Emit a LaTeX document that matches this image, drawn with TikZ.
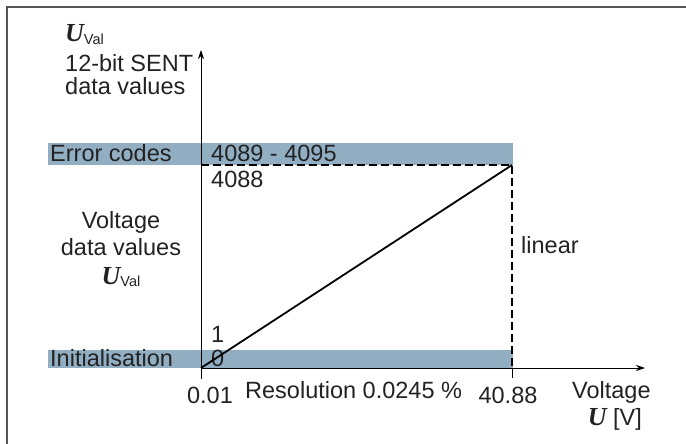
\documentclass[tikz,border=0pt]{standalone}
\usepackage{fontspec}
\setmainfont{Liberation Sans}
\newfontfamily\ufont{Liberation Serif}
\usetikzlibrary{arrows.meta}
\definecolor{bandblue}{HTML}{91AEC3}
\definecolor{framegray}{HTML}{555555}
\definecolor{txt}{HTML}{222222}
\newcommand{\UVal}{{\fontsize{26}{26}\ufont\bfseries\itshape U}\raisebox{-2.5pt}{\fontsize{14.5}{14.5}\selectfont Val}}
\tikzset{
  lbl/.style={inner sep=0pt, anchor=base west, text=txt},
  lblc/.style={inner sep=0pt, anchor=base, text=txt},
  axis/.style={line width=0.9pt, -{Stealth[length=9pt,width=6pt]}},
  dashline/.style={line width=1.8pt, dash pattern=on 8pt off 4pt},
  band/.style={fill=bandblue},
}
\begin{document}
\begin{tikzpicture}[x=1pt,y=-1pt, font=\fontsize{23.5}{23}\selectfont]
\useasboundingbox (0,0) rectangle (686,444);
% bands
\fill[band] (48,143) rectangle (513,165);
\fill[band] (48,350) rectangle (513,368);
% frame
\draw[framegray, line width=1.5pt] (7,444) -- (7,7) -- (686,7);
% coordinates
\coordinate (o) at (201,368);
\coordinate (ybot) at (201,379);
\coordinate (ytop) at (201,50);
\coordinate (xend) at (645,368);
\coordinate (p) at (512,165);
\coordinate (ph) at (201,165);
\coordinate (pb) at (512,368);
\coordinate (tick) at (512,378);
% axes
\draw[axis] (ybot) -- (ytop);
\draw[axis] (o) -- (xend);
\draw[line width=0.9pt] (pb) -- (tick);
% dashed
\draw[dashline] (ph) -- (p) -- (pb);
% texts
\node[lbl] (uv1) at (65,42) {\UVal};
\node[lbl] (t12) at (65,72) {12-bit SENT};
\node[lbl] (tdv) at (65,95) {data values};
\node[lbl] (err) at (50,161) {Error codes};
\node[lbl] (rng) at (211,161) {4089 - 4095};
\node[lbl] (v4088) at (211,187) {4088};
\node[lblc] (vv) at (121,228) {Voltage};
\node[lblc] (vdv) at (121,255) {data values};
\node[lblc] (vu) at (121,284) {\UVal};
\node[lbl] (lin) at (521,253) {linear};
\node[lbl] (one) at (211,342) {1};
\node[lbl] (init) at (50,366) {Initialisation};
\node[lbl] (zero) at (211,366) {0};
\node[lblc] (x001) at (210,403) {0.01};
\node[lbl] (res) at (245,398) {Resolution 0.0245 \%};
\node[lblc] (x4088) at (508,403) {40.88};
\node[lbl] (volt) at (572,398) {Voltage};
\node[anchor=base east, inner sep=0pt, text=txt] (uvv) at (642,425) {{\fontsize{26}{26}\ufont\bfseries\itshape U} [V]};
% characteristic
\draw[line width=1.8pt] (o) -- (p);
\end{tikzpicture}
\end{document}
